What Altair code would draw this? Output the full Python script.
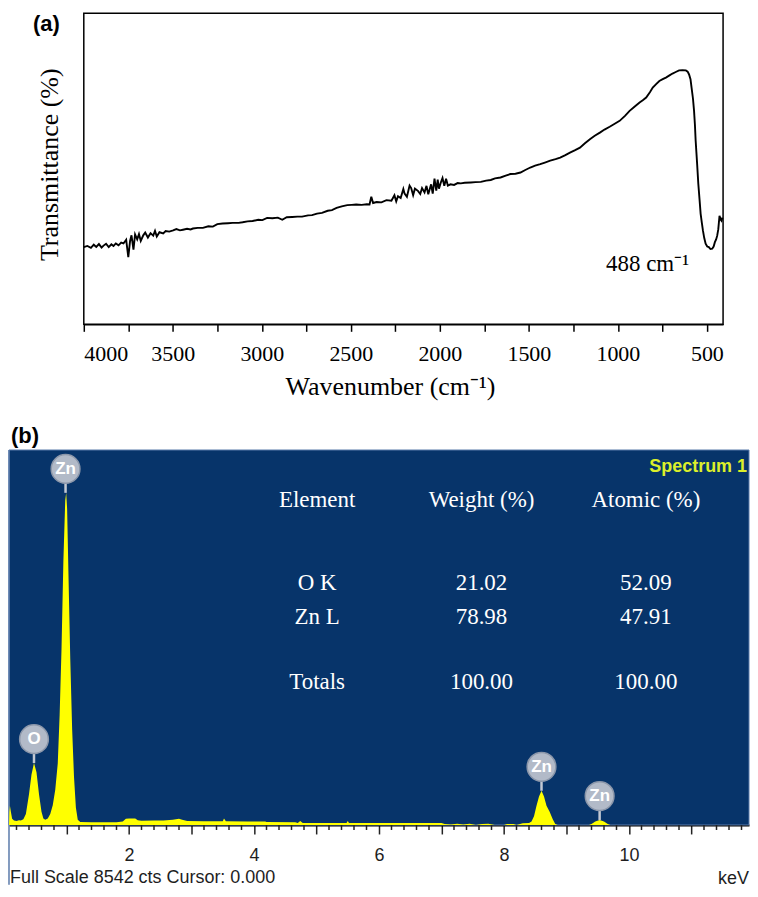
import altair as alt
import pandas as pd

# ---------------- Panel (a): FTIR spectrum ----------------
ftir_wavenumber = [
    4000, 3980, 3960, 3944, 3930, 3915, 3900, 3889, 3875, 3860, 3845, 3833, 3820, 3805,
    3790, 3777, 3762, 3750, 3740, 3732, 3721, 3712, 3700, 3690, 3680, 3666, 3655, 3640,
    3625, 3610, 3600, 3590, 3575, 3554, 3540, 3520, 3498, 3480, 3460, 3443, 3420, 3400,
    3387, 3360, 3331, 3300, 3275, 3250, 3220, 3190, 3164, 3130, 3108, 3080, 3052, 3020,
    2997, 2970, 2941, 2910, 2885, 2860, 2829, 2800, 2774, 2740, 2718, 2690, 2662, 2630,
    2606, 2580, 2551, 2520, 2495, 2470, 2439, 2410, 2395, 2385, 2375, 2355, 2328, 2300,
    2272, 2255, 2245, 2235, 2220, 2205, 2198, 2185, 2170, 2161, 2150, 2140, 2123, 2110,
    2100, 2086, 2075, 2065, 2049, 2040, 2030, 2020, 2012, 2005, 1995, 1985, 1975, 1965,
    1955, 1940, 1920, 1900, 1882, 1860, 1826, 1800, 1770, 1740, 1714, 1690, 1659, 1630,
    1603, 1575, 1547, 1520, 1492, 1465, 1436, 1410, 1380, 1350, 1324, 1295, 1269, 1240,
    1213, 1185, 1157, 1130, 1101, 1075, 1046, 1020, 990, 960, 934, 905, 878, 860, 841,
    820, 804, 785, 767, 748, 730, 710, 693, 675, 656, 637, 618, 608, 600, 592, 586, 578,
    572, 567, 563, 555, 548, 541, 535, 528, 522, 515, 507, 498, 489, 480, 470, 462, 455,
    448, 442, 436, 429, 422, 418, 414, 409,
]
ftir_transmittance = [
    24.8, 25.2, 24.6, 25.6, 24.9, 25.8, 24.7, 25.3, 25.9, 24.8, 25.7, 25.2, 26.0, 25.4,
    26.3, 26.0, 27.2, 21.6, 26.8, 28.6, 24.0, 28.9, 27.3, 29.0, 26.8, 28.6, 29.5, 27.9,
    29.3, 28.5, 30.0, 28.2, 29.6, 29.2, 30.0, 29.8, 30.2, 30.6, 30.2, 30.4, 30.7, 30.5,
    30.8, 31.0, 31.0, 31.5, 31.4, 32.2, 32.4, 32.5, 32.6, 32.6, 32.8, 33.1, 33.2, 33.6,
    33.5, 34.2, 34.1, 34.3, 33.6, 34.4, 34.5, 34.6, 34.6, 35.0, 35.1, 35.6, 35.8, 36.5,
    36.7, 37.4, 37.9, 38.3, 38.4, 38.5, 38.4, 38.6, 38.5, 41.0, 39.0, 39.3, 39.2, 39.9,
    39.7, 41.5, 39.5, 41.2, 40.6, 43.5, 42.0, 41.0, 44.6, 43.8, 41.5, 43.6, 42.9, 41.9,
    43.8, 42.4, 44.5, 41.8, 45.0, 42.0, 46.8, 43.0, 46.5, 43.6, 45.5, 47.0, 44.5, 46.8,
    44.6, 45.0, 44.8, 45.4, 45.3, 45.5, 45.6, 45.7, 45.8, 46.2, 46.4, 46.9, 47.2, 47.8,
    48.3, 48.4, 48.8, 49.6, 50.4, 51.0, 51.5, 52.0, 52.6, 53.1, 53.6, 54.4, 55.2, 56.0,
    56.8, 58.2, 59.5, 60.6, 61.6, 62.6, 63.5, 64.4, 65.4, 67.0, 68.6, 70.0, 71.3, 72.0, 72.9,
    74.6, 76.1, 77.2, 78.2, 78.8, 79.3, 80.0, 80.6, 81.1, 81.6, 81.7, 81.6, 81.2, 80.3, 78.8, 76.1, 72.5,
    68.6, 64.0, 59.0, 51.8, 45.1, 40.0, 35.5, 32.5, 30.1, 27.8, 25.9, 25.0, 24.8, 24.2, 24.3, 25.0, 26.4,
    27.3, 28.5, 30.5, 34.9, 33.6, 33.3, 34.0, 33.9,
]
wn_ticks = [4000, 3750, 3500, 3250, 3000, 2750, 2500, 2250, 2000, 1750, 1500, 1250, 1000, 750, 500]
ftir_peak_label = "488 cm⁻¹"

# ---------------- Panel (b): EDS spectrum ----------------
eds_kev = [
    0.08, 0.085, 0.095, 0.11, 0.13, 0.16, 0.2, 0.24, 0.27, 0.31, 0.35, 0.4, 0.44, 0.48,
    0.52, 0.56, 0.6, 0.63, 0.66, 0.7, 0.74, 0.78, 0.82, 0.86, 0.89, 0.92, 0.95, 0.98,
    0.995, 1.01, 1.03, 1.06, 1.09, 1.12, 1.15, 1.18, 1.22, 1.4, 1.6, 1.8, 1.9, 1.95, 2.0,
    2.1, 2.14, 2.2, 2.4, 2.55, 2.7, 2.8, 2.85, 2.93, 3.2, 3.5, 3.52, 3.55, 3.9, 4.18,
    4.2, 4.66, 4.7, 4.74, 4.78, 5.48, 5.5, 5.52, 6.0, 7.0, 7.05, 7.15, 7.25, 7.35, 7.45,
    7.55, 7.65, 7.75, 7.85, 8.0, 8.05, 8.15, 8.2, 8.3, 8.4, 8.44, 8.48, 8.52, 8.56, 8.6,
    8.64, 8.68, 8.73, 8.78, 8.82, 8.86, 9.36, 9.4, 9.46, 9.53, 9.6, 9.66, 9.7, 11.92,
]
eds_counts = [
    0, 300, 440, 300, 140, 100, 90, 110, 100, 130, 250, 700, 1150, 1410,
    1200, 700, 300, 150, 120, 150, 250, 450, 800, 1400, 2500, 4000, 6000, 7400,
    7566, 7200, 5800, 3800, 2200, 1100, 400, 120, 70, 65, 60, 65, 80, 140, 150,
    145, 110, 95, 100, 105, 120, 140, 120, 90, 85, 84, 150, 84, 82, 80,
    70, 65, 45, 90, 45, 45, 90, 45, 45, 45, 25, 10, 30, 10, 30,
    0, 25, 30, 0, 0, 25, 25, 0, 40, 45, 80, 200, 440, 650, 780,
    650, 440, 300, 130, 20, 0, 0, 25, 80, 114, 80, 25, 0, 0,
]
peak_kev = [0.48, 0.985, 8.6, 9.53]
peak_counts = [1410, 7566, 780, 114]
peak_labels = ["O", "Zn", "Zn", "Zn"]
table_header = ["Element", "Weight (%)", "Atomic  (%)"]
table_elements = ["O K", "Zn L", "Totals"]
table_weight = ["21.02", "78.98", "100.00"]
table_atomic = ["52.09", "47.91", "100.00"]
kev_major_ticks = list(range(1, 12))
kev_minor_ticks = [round(0.2 * k, 1) for k in range(1, 60) if k % 5 != 0]
full_scale_text = "Full Scale 8542 cts Cursor: 0.000"

# ---------------- layout constants ----------------
SERIF = "Liberation Serif"
SANS = "Liberation Sans"
W = 742
A_H = 312
B_H = 376
A_RANGE = [75, 716]
KEV_MIN, KEV_MAX = 0.08, 11.92
CNT_MAX = 8542
BLUE = "#07346a"
YELLOW = "#ffff00"

one = pd.DataFrame({"k": [0]})

# ---------------- panel (a) ----------------
ftir = pd.DataFrame({"wn": ftir_wavenumber, "t": ftir_transmittance})
xa_scale = alt.Scale(domain=[4000, 409], range=A_RANGE, nice=False, zero=False)
ya_scale = alt.Scale(domain=[0, 100], nice=False, zero=False)

xa_axis = alt.Axis(
    values=wn_ticks,
    labelExpr="datum.value % 500 == 0 ? format(datum.value, 'd') : ''",
    labelOverlap=False,
    labelFont=SERIF,
    labelFontSize=22,
    labelColor="black",
    labelPadding=12,
    tickSize=7,
    tickWidth=1.5,
    tickColor="black",
    domainColor="black",
    domainWidth=1.5,
    grid=False,
    title="Wavenumber (cm⁻¹)",
    titleFont=SERIF,
    titleFontSize=26,
    titleFontWeight="normal",
    titleColor="black",
    titlePadding=9,
    titleX=382,
)

frame_a = alt.Chart(one).mark_rect(fillOpacity=0, stroke="black", strokeWidth=1.5).encode(
    x=alt.datum(4000, scale=xa_scale, axis=xa_axis),
    x2=alt.datum(409),
    y=alt.datum(100, scale=ya_scale, axis=None),
    y2=alt.datum(0),
)

line_a = alt.Chart(ftir).mark_line(color="black", strokeWidth=1.9).encode(
    x=alt.X("wn:Q", scale=xa_scale, axis=xa_axis),
    y=alt.Y("t:Q", scale=ya_scale, axis=None),
)

annot_a = alt.Chart(one).mark_text(
    align="right", baseline="alphabetic", font=SERIF, fontSize=23, color="black"
).encode(x=alt.datum(600, scale=xa_scale), y=alt.datum(17.3, scale=ya_scale), text=alt.value(ftir_peak_label))

ytitle_a = alt.Chart(one).mark_text(
    angle=270, align="center", baseline="middle", font=SERIF, fontSize=26, color="black"
).encode(x=alt.value(41), y=alt.value(152), text=alt.value("Transmittance (%)"))

label_a = alt.Chart(one).mark_text(
    align="left", baseline="alphabetic", font=SANS, fontSize=22, fontWeight="bold", color="black"
).encode(x=alt.value(24), y=alt.value(18), text=alt.value("(a)"))

panel_a = alt.layer(frame_a, line_a, annot_a, ytitle_a, label_a).properties(
    width=W, height=A_H, view=alt.ViewBackground(strokeOpacity=0)
)

# ---------------- panel (b) ----------------
eds = pd.DataFrame({"kev": eds_kev, "cnt": eds_counts})
peaks = pd.DataFrame({"kev": peak_kev, "cnt": peak_counts, "lab": peak_labels})
minor = pd.DataFrame({"kev": kev_minor_ticks})

xb_scale = alt.Scale(domain=[KEV_MIN, KEV_MAX], nice=False, zero=False)
yb_scale = alt.Scale(domain=[0, CNT_MAX], nice=False, zero=False)

xb_axis = alt.Axis(
    values=kev_major_ticks,
    labelExpr="datum.value % 2 == 0 ? format(datum.value, 'd') : ''",
    labelOverlap=False,
    labelFont=SANS,
    labelFontSize=18,
    labelColor="#1e1e1e",
    labelPadding=13,
    tickSize=9,
    tickWidth=1.5,
    tickColor="#222222",
    domainColor="black",
    domainWidth=2,
    grid=False,
    title=None,
)

bg_b = alt.Chart(one).mark_rect(color=BLUE, stroke="#5b7bab", strokeWidth=1).encode(
    x=alt.datum(KEV_MIN, scale=xb_scale, axis=xb_axis),
    x2=alt.datum(KEV_MAX),
    y=alt.value(0),
    y2=alt.value(B_H),
)

edge_b = alt.Chart(one).mark_rule(color="#5b7bab", strokeWidth=1.5).encode(
    x=alt.datum(KEV_MIN, scale=xb_scale),
    y=alt.value(0),
    y2=alt.value(B_H + 60),
)

minor_b = alt.Chart(minor).mark_rule(color="#222222", strokeWidth=1.5).encode(
    x=alt.X("kev:Q", scale=xb_scale),
    y=alt.value(B_H),
    y2=alt.value(B_H + 5),
)

area_b = alt.Chart(eds).mark_area(color=YELLOW, opacity=1).encode(
    x=alt.X("kev:Q", scale=xb_scale, axis=xb_axis),
    y=alt.Y("cnt:Q", scale=yb_scale, axis=None),
)

stems_b = alt.Chart(peaks).mark_rule(color="#c3c9d3", strokeWidth=2.5, y2Offset=-12).encode(
    x=alt.X("kev:Q", scale=xb_scale),
    y=alt.Y("cnt:Q", scale=yb_scale),
    y2="cnt:Q",
)

circles_b = alt.Chart(peaks).mark_circle(
    size=830, color="#b2bac8", opacity=1, stroke="#8c97aa", strokeWidth=1.5, yOffset=-24
).encode(x=alt.X("kev:Q", scale=xb_scale), y=alt.Y("cnt:Q", scale=yb_scale))

circle_text_b = alt.Chart(peaks).mark_text(
    font=SANS, fontSize=17, fontWeight="bold", color="white", baseline="middle", align="center", yOffset=-24
).encode(x=alt.X("kev:Q", scale=xb_scale), y=alt.Y("cnt:Q", scale=yb_scale), text="lab:N")

# table overlay (positions in keV / counts)
col_kev = [5.01, 7.64, 10.27]
row_cnt = [7407, 5521, 4748, 3249]
cells = []
for j, h in enumerate(table_header):
    cells.append({"kev": col_kev[j], "cnt": row_cnt[0], "txt": h})
for i in range(3):
    cells.append({"kev": col_kev[0], "cnt": row_cnt[i + 1], "txt": table_elements[i]})
    cells.append({"kev": col_kev[1], "cnt": row_cnt[i + 1], "txt": table_weight[i]})
    cells.append({"kev": col_kev[2], "cnt": row_cnt[i + 1], "txt": table_atomic[i]})
table_df = pd.DataFrame(cells)

table_b = alt.Chart(table_df).mark_text(
    font=SERIF, fontSize=23, color="white", align="center", baseline="middle"
).encode(x=alt.X("kev:Q", scale=xb_scale), y=alt.Y("cnt:Q", scale=yb_scale), text="txt:N")

spec_label = alt.Chart(one).mark_text(
    font=SANS, fontSize=18, fontWeight="bold", color="#dcef2a", align="right", baseline="middle"
).encode(x=alt.value(W - 2), y=alt.value(17), text=alt.value("Spectrum 1"))

label_b = alt.Chart(one).mark_text(
    align="left", baseline="alphabetic", font=SANS, fontSize=22, fontWeight="bold", color="black"
).encode(x=alt.value(2), y=alt.value(-7), text=alt.value("(b)"))

full_scale = alt.Chart(one).mark_text(
    align="left", baseline="middle", font=SANS, fontSize=18, color="#1e1e1e"
).encode(x=alt.value(1), y=alt.value(B_H + 53), text=alt.value(full_scale_text))

kev_label = alt.Chart(one).mark_text(
    align="right", baseline="middle", font=SANS, fontSize=18, color="#1e1e1e"
).encode(x=alt.value(W), y=alt.value(B_H + 54), text=alt.value("keV"))

panel_b = alt.layer(
    bg_b, edge_b, minor_b, area_b, stems_b, circles_b, circle_text_b, table_b,
    spec_label, label_b, full_scale, kev_label
).properties(width=W, height=B_H, view=alt.ViewBackground(strokeOpacity=0))

chart = (
    alt.vconcat(panel_a, panel_b, spacing=26)
    .properties(padding={"left": 0, "top": 3, "right": 0, "bottom": 0})
    .configure(background="white")
)

chart.save("out.html", embed_options={"renderer": "svg", "actions": False})
